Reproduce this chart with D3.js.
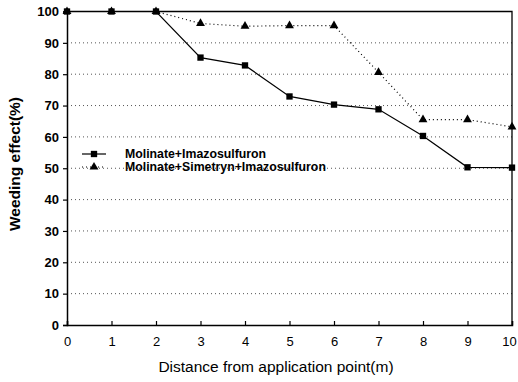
<!DOCTYPE html>
<html><head><meta charset="utf-8">
<script src="https://cdn.jsdelivr.net/npm/d3@7"></script>
<style>body{margin:0;background:#fff}svg{display:block}</style>
</head><body>
<svg id="c" width="518" height="382"></svg>
<script>
const distances = [0,1,2,3,4,5,6,7,8,9,10];
const molImaz = [100,100,100,85.3,82.8,72.9,70.3,68.8,60.3,50.3,50.2];
const molSimImaz = [100,100,100,96.2,95.3,95.5,95.5,80.6,65.5,65.5,63.2];
const seriesNames = ["Molinate+Imazosulfuron","Molinate+Simetryn+Imazosulfuron"];
const yTicks = [0,10,20,30,40,50,60,70,80,90,100];

const svg = d3.select("#c");
const x = d3.scaleLinear().domain([0,10]).range([67,512]);
const y = d3.scaleLinear().domain([0,100]).range([325,11.5]);
const font = "Arial, 'Liberation Sans', sans-serif";

// grid
svg.append("g").selectAll("line").data(yTicks.filter(d=>d>0&&d<100)).join("line")
  .attr("x1",x(0)).attr("x2",x(10)).attr("y1",d=>y(d)).attr("y2",d=>y(d))
  .attr("stroke","#555").attr("stroke-width",1).attr("stroke-dasharray","1,3");

// frame top/right
svg.append("path").attr("d",`M${x(0)},${y(100)}H${x(10)}V${y(0)}`)
  .attr("fill","none").attr("stroke","#000").attr("stroke-width",1.3);

// axes
const yAxis = d3.axisLeft(y).tickValues(yTicks).tickSize(4).tickPadding(4);
const gy = svg.append("g").attr("transform",`translate(${x(0)},0)`).call(yAxis);
const xAxis = d3.axisBottom(x).tickValues(distances).tickSize(-4).tickPadding(12);
const gx = svg.append("g").attr("transform",`translate(0,${y(0)})`).call(xAxis);
[gy,gx].forEach(g=>{
  g.selectAll(".domain").attr("stroke","#000").attr("stroke-width",1.5);
  g.selectAll(".tick line").attr("stroke","#000").attr("stroke-width",1.2);
  g.selectAll("text").attr("font-family",font).attr("font-size",13).attr("font-weight","bold").attr("fill","#000");
});
gx.selectAll("text").attr("font-weight","normal").attr("font-size",13)
  .attr("dx",d=>d===10?"-3":"0");

// lines
const line1 = d3.line().x((d,i)=>x(distances[i])).y(d=>y(d));
svg.append("path").datum(molSimImaz).attr("d",line1).attr("fill","none")
  .attr("stroke","#000").attr("stroke-width",1.2).attr("stroke-dasharray","1,3");
svg.append("path").datum(molImaz).attr("d",line1).attr("fill","none")
  .attr("stroke","#000").attr("stroke-width",1.2);

const sq = d3.symbol().type(d3.symbolSquare).size(40);
const tri = d3.symbol().type(d3.symbolTriangle).size(34);
svg.append("g").selectAll("path").data(molSimImaz).join("path")
  .attr("d",tri).attr("transform",(d,i)=>`translate(${x(distances[i])},${y(d)})`).attr("fill","#000");
svg.append("g").selectAll("path").data(molImaz).join("path")
  .attr("d",sq).attr("transform",(d,i)=>`translate(${x(distances[i])},${y(d)})`).attr("fill","#000");

// legend
const lg = svg.append("g");
lg.append("line").attr("x1",82).attr("x2",106).attr("y1",154).attr("y2",154).attr("stroke","#000").attr("stroke-width",1.2);
lg.append("path").attr("d",sq).attr("transform","translate(94,154)");
lg.append("line").attr("x1",82).attr("x2",106).attr("y1",167).attr("y2",167).attr("stroke","#000").attr("stroke-width",1.2).attr("stroke-dasharray","1,3");
lg.append("path").attr("d",tri).attr("transform","translate(94,167)");
lg.selectAll("text").data(seriesNames).join("text")
  .attr("x",125).attr("y",(d,i)=>154+i*13).attr("dy","0.35em")
  .attr("font-family",font).attr("font-size",12.3).attr("font-weight","bold").attr("fill","#000").text(d=>d);

// axis titles
svg.append("text").attr("transform","translate(20,164) rotate(-90)").attr("text-anchor","middle")
  .attr("font-family",font).attr("font-size",15.5).attr("font-weight","bold").text("Weeding effect(%)");
svg.append("text").attr("x",276).attr("y",372).attr("text-anchor","middle")
  .attr("font-family",font).attr("font-size",15.5).text("Distance from application point(m)");
</script>
</body></html>
